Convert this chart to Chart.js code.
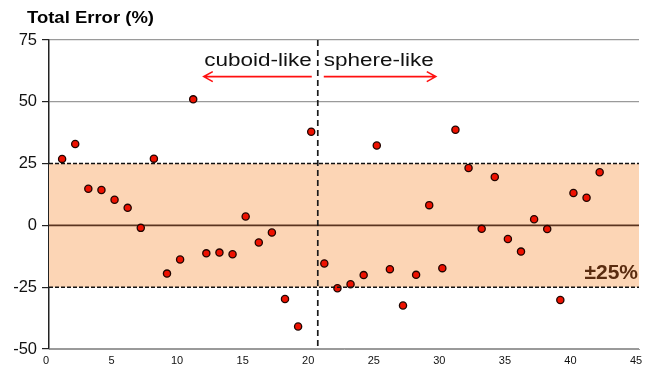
<!DOCTYPE html>
<html>
<head>
<meta charset="utf-8">
<title>Total Error (%)</title>
<script src="https://cdn.jsdelivr.net/npm/chart.js@4/dist/chart.umd.min.js"></script>
<style>
  html, body { margin: 0; padding: 0; background: #ffffff; }
  #wrap { width: 646px; height: 371px; }
</style>
</head>
<body>
<div id="wrap"><canvas id="chart" width="646" height="371"></canvas></div>
<script>
// Sample number along the x axis
const sampleIndex = [1, 2, 3, 4, 5, 6, 7, 8, 9, 10, 11, 12, 13, 14, 15, 16, 17, 18, 19, 20, 21,
                     22, 23, 24, 25, 26, 27, 28, 29, 30, 31, 32, 33, 34, 35, 36, 37, 38, 39, 40, 41, 42];
// Total error for each sample, in percent
const totalError = [26.9, 32.9, 14.8, 14.3, 10.4, 7.1, -1.0, 27.0, -19.5, -13.8, 51.0, -11.3, -11.0, -11.7,
                    3.6, -6.9, -2.9, -29.8, -40.9, 37.9, -15.4, -25.4, -23.8, -20.1, 32.3, -17.7, -32.4, -20.0,
                    8.2, -17.3, 38.7, 23.2, -1.4, 19.6, -5.5, -10.6, 2.5, -1.5, -30.2, 13.1, 11.2, 21.5];
// Axis ticks
const xTicks = [0, 5, 10, 15, 20, 25, 30, 35, 40, 45];
const yTicks = [-50, -25, 0, 25, 50, 75];
// Tolerance band and the shape boundary
const tolerance = 25;
const shapeBoundary = 20.5;
const leftLabel = 'cuboid-like';
const rightLabel = 'sphere-like';
const titleText = 'Total Error (%)';
const bandText = '\u00B125%';

const FONT = '"Liberation Sans", Arial, Helvetica, sans-serif';

const points = sampleIndex.map((x, i) => ({ x: x, y: totalError[i] }));

// Draws text stretched horizontally by sx, anchored at its left edge
function wideText(ctx, text, x, y, sx) {
  ctx.save();
  ctx.translate(x, y);
  ctx.scale(sx, 1);
  ctx.fillText(text, 0, 0);
  ctx.restore();
}

const overlays = {
  id: 'overlays',
  beforeDatasetsDraw(chart) {
    const { ctx, chartArea: a, scales: { y } } = chart;
    const yTop = y.getPixelForValue(tolerance);
    const yBot = y.getPixelForValue(-tolerance);
    const y0 = y.getPixelForValue(0);
    ctx.save();
    // tolerance band behind the markers
    ctx.fillStyle = '#fcd5b5';
    ctx.fillRect(a.left, yTop, a.right - a.left, yBot - yTop);
    // zero line
    ctx.strokeStyle = '#5a3420';
    ctx.lineWidth = 1.6;
    ctx.beginPath();
    ctx.moveTo(a.left, y0);
    ctx.lineTo(a.right, y0);
    ctx.stroke();
    ctx.restore();
  },
  afterDatasetsDraw(chart) {
    const { ctx, chartArea: a, scales: { x, y } } = chart;
    const yTop = y.getPixelForValue(tolerance);
    const yBot = y.getPixelForValue(-tolerance);

    ctx.save();
    // dashed band limits
    ctx.strokeStyle = '#111111';
    ctx.lineWidth = 1.5;
    ctx.setLineDash([4, 2]);
    [yTop, yBot].forEach(py => {
      ctx.beginPath();
      ctx.moveTo(a.left, py);
      ctx.lineTo(a.right, py);
      ctx.stroke();
    });

    // boundary between the two shape groups
    const bx = x.getPixelForValue(shapeBoundary);
    ctx.setLineDash([6, 4]);
    ctx.lineWidth = 1.7;
    ctx.strokeStyle = '#1a1a1a';
    ctx.beginPath();
    ctx.moveTo(bx, a.top);
    ctx.lineTo(bx, a.bottom);
    ctx.stroke();
    ctx.setLineDash([]);

    // group labels
    ctx.fillStyle = '#111111';
    ctx.font = '18px ' + FONT;
    ctx.textBaseline = 'alphabetic';
    const base = y.getPixelForValue(64.5);
    const sx = 1.25;
    const lw = ctx.measureText(leftLabel).width * sx;
    wideText(ctx, leftLabel, bx - 6 - lw, base, sx);
    wideText(ctx, rightLabel, bx + 6, base, sx);

    // direction arrows
    const ay = y.getPixelForValue(60.2);
    ctx.strokeStyle = '#ff1010';
    ctx.lineWidth = 1.6;
    const drawArrow = (x0, x1) => {
      const dir = Math.sign(x1 - x0);
      ctx.beginPath();
      ctx.moveTo(x0, ay);
      ctx.lineTo(x1, ay);
      ctx.moveTo(x1 - dir * 9, ay - 5);
      ctx.lineTo(x1, ay);
      ctx.lineTo(x1 - dir * 9, ay + 5);
      ctx.stroke();
    };
    drawArrow(bx - 6, bx - 114);
    drawArrow(bx + 6, bx + 118);

    // band label
    ctx.fillStyle = '#5a2c10';
    ctx.font = 'bold 21px ' + FONT;
    ctx.textAlign = 'right';
    ctx.fillText(bandText, a.right - 1, y.getPixelForValue(-21.8));
    ctx.textAlign = 'left';

    // axis title
    ctx.fillStyle = '#000000';
    ctx.font = 'bold 16.5px ' + FONT;
    wideText(ctx, titleText, 27, 23, 1.12);
    ctx.restore();
  }
};

new Chart(document.getElementById('chart'), {
  type: 'scatter',
  data: {
    datasets: [{
      data: points,
      pointRadius: 3.6,
      pointHoverRadius: 3.6,
      pointBackgroundColor: '#ee1100',
      pointBorderColor: '#1f0500',
      pointBorderWidth: 1.3
    }]
  },
  options: {
    responsive: false,
    animation: false,
    devicePixelRatio: 1,
    layout: { padding: { top: 40, right: 7, left: 0, bottom: 0 } },
    plugins: { legend: { display: false }, tooltip: { enabled: false }, title: { display: false } },
    scales: {
      x: {
        type: 'linear',
        min: xTicks[0],
        max: xTicks[xTicks.length - 1],
        afterBuildTicks: s => { s.ticks = xTicks.map(v => ({ value: v })); },
        afterFit: s => { s.height = 22; s.paddingLeft = 0; s.paddingRight = 0; },
        grid: { display: false, drawTicks: false },
        border: { display: true, color: '#9a9a9a', width: 1 },
        ticks: { color: '#111111', font: { size: 11, family: FONT }, padding: 5, labelOffset: -3, maxRotation: 0 }
      },
      y: {
        type: 'linear',
        min: yTicks[0],
        max: yTicks[yTicks.length - 1],
        afterBuildTicks: s => { s.ticks = yTicks.map(v => ({ value: v })); },
        afterFit: s => { s.width = 49; },
        grid: {
          drawTicks: true,
          tickLength: 7,
          tickColor: '#222222',
          lineWidth: 1.2,
          color: c => {
            const v = c.tick ? c.tick.value : null;
            if (v === tolerance || v === -tolerance || v === 0) return 'rgba(0,0,0,0)';
            return '#9a9a9a';
          }
        },
        border: { display: true, color: '#222222', width: 1.5 },
        ticks: { color: '#111111', font: { size: 16.5, family: FONT }, padding: 5 }
      }
    }
  },
  plugins: [overlays]
});
</script>
</body>
</html>
